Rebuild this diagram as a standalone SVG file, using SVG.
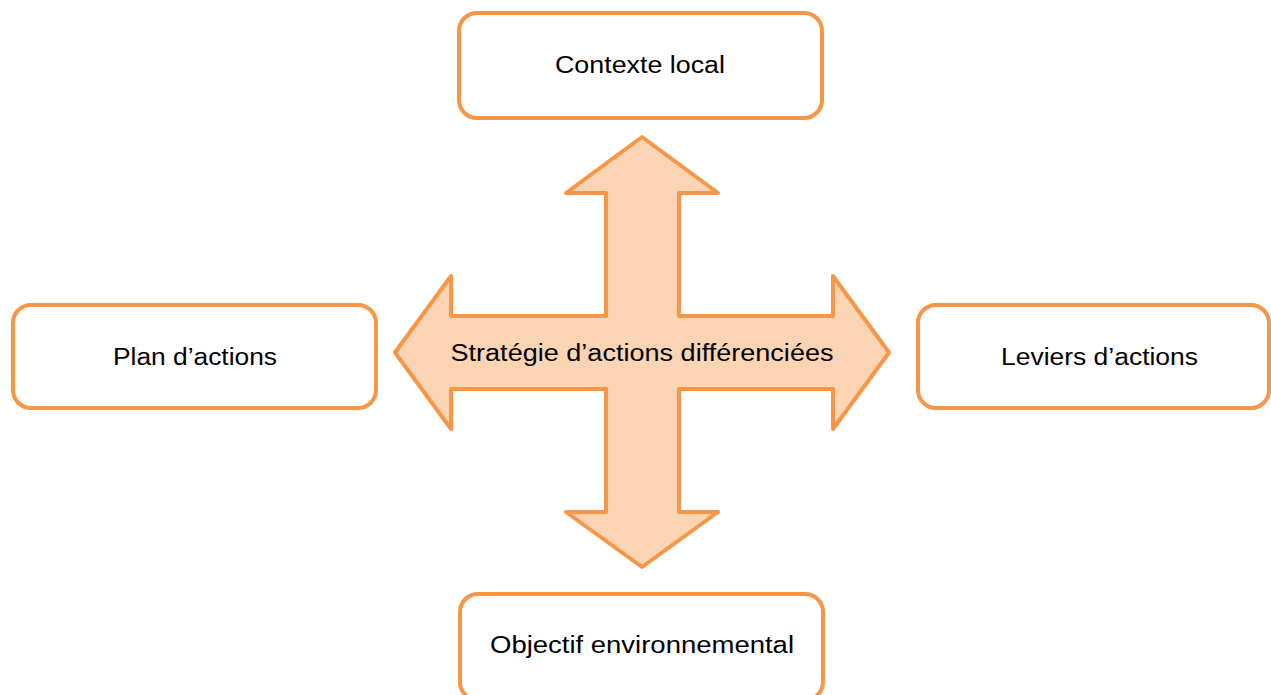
<svg xmlns="http://www.w3.org/2000/svg" width="1271" height="695" viewBox="0 0 1271 695">
<style>
.box{fill:#fff;stroke:#F79646;stroke-width:4}
.arrow{fill:#FBD4B4;stroke:#F79646;stroke-width:4;stroke-linejoin:round}
text{font-family:"Liberation Sans","Open Sans",Arial,sans-serif;font-size:23px;fill:#000;text-anchor:middle}
</style>
<rect width="1271" height="695" fill="#fff"/>
<g id="connectors">
<path class="arrow" d="M642,137 L718,193 L679,193 L679,316 L833,316 L833,276 L889,352.5 L833,429 L833,389 L679,389 L679,512 L718,512 L642,567 L566,512 L606,512 L606,389 L451,389 L451,429 L395,352.5 L451,276 L451,316 L606,316 L606,193 L566,193 Z"/>
</g>
<g id="center-label"><text x="642" y="361" textLength="383" lengthAdjust="spacingAndGlyphs">Stratégie d’actions différenciées</text></g>
<g id="node-contexte">
<rect class="box" x="459" y="13" width="363" height="105" rx="18"/>
<text x="640" y="73" textLength="170" lengthAdjust="spacingAndGlyphs">Contexte local</text>
</g>
<g id="node-plan">
<rect class="box" x="13" y="305" width="363" height="103" rx="18"/>
<text x="195" y="365" textLength="164" lengthAdjust="spacingAndGlyphs">Plan d’actions</text>
</g>
<g id="node-leviers">
<rect class="box" x="918" y="305" width="351" height="103" rx="18"/>
<text x="1099.5" y="365" textLength="197" lengthAdjust="spacingAndGlyphs">Leviers d’actions</text>
</g>
<g id="node-objectif">
<rect class="box" x="460" y="594" width="363" height="106" rx="18"/>
<text x="642" y="653" textLength="304" lengthAdjust="spacingAndGlyphs">Objectif environnemental</text>
</g>
</svg>
